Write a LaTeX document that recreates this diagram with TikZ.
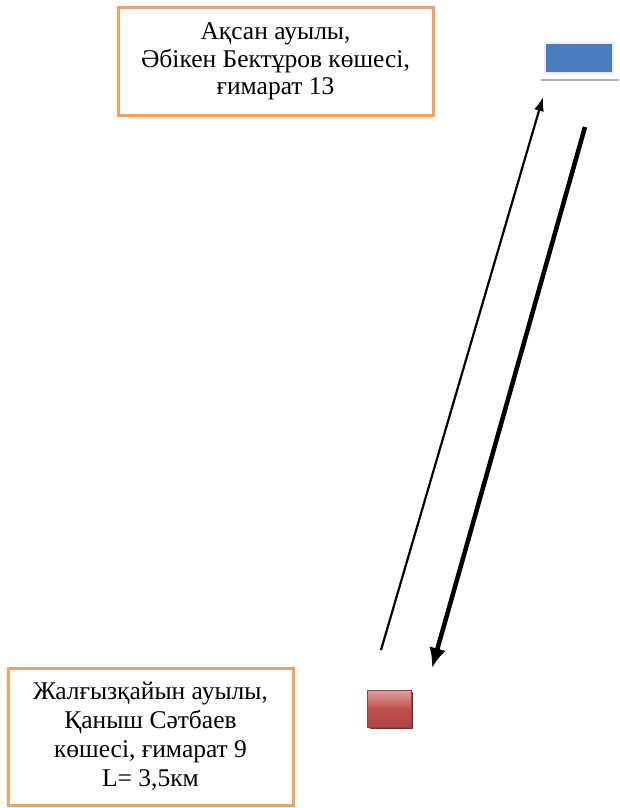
\documentclass[tikz,border=0pt]{standalone}
\usepackage{fontspec}
\setmainfont{Liberation Serif}
\usepackage{tikz}
\usetikzlibrary{arrows.meta}
\definecolor{boxorange}{HTML}{F3A15E}
\definecolor{markblue}{HTML}{4A7EC0}
\definecolor{markred}{HTML}{C0504D}
\begin{document}
\begin{tikzpicture}[x=1pt, y=-1pt,
			addr/.style = {draw=boxorange, line width=3pt, fill=white, align=center, inner sep=0pt, font=\fontsize{25.5}{27.5}\selectfont},
			route/.style = {black, ->},]
			
			\useasboundingbox (0,0) rectangle (619,808);
			
			%% ADDRESS BOXES
			\node[addr, minimum width=315pt, minimum height=107pt] (dest) at (275.5,61.5) {Ақсан ауылы,\\ Әбікен Бектұров көшесі,\\ ғимарат 13};
			\node[addr, minimum width=285pt, minimum height=137pt, font=\fontsize{25.5}{29}\selectfont] (start) at (150.5,736.5) {Жалғызқайын ауылы,\\ Қаныш Сәтбаев\\ көшесі, ғимарат 9\\ L= 3,5км};
			
			%% MARKERS
			\draw[gray!60, line width=2pt] (541,80) -- (619,80);
			\node[draw=blue!8, line width=2pt, fill=markblue, minimum width=68pt, minimum height=30pt, inner sep=0pt] (school) at (579,58) {};
			\draw[markred!60!black, line width=1.5pt] (370,728) -- (412,728) -- (412,692);
			\node[draw=markred!80!black, thin, top color=markred!55!white, bottom color=markred!90!black, middle color=markred, minimum width=44pt, minimum height=37pt, inner sep=0pt] (home) at (389,709) {};
			
			%% ROUTE
			\coordinate (up1) at (381,650);
			\coordinate (up2) at (543,97);
			\coordinate (dn1) at (585,127);
			\coordinate (dn2) at (432,668);
			\draw[route, line width=2.2pt, >={Latex[length=14pt,width=10pt]}] (up1) -- (up2);
			\draw[route, line width=4.5pt, >={Latex[length=20pt,width=17pt]}] (dn1) -- (dn2);
			\end{tikzpicture}
\end{document}
